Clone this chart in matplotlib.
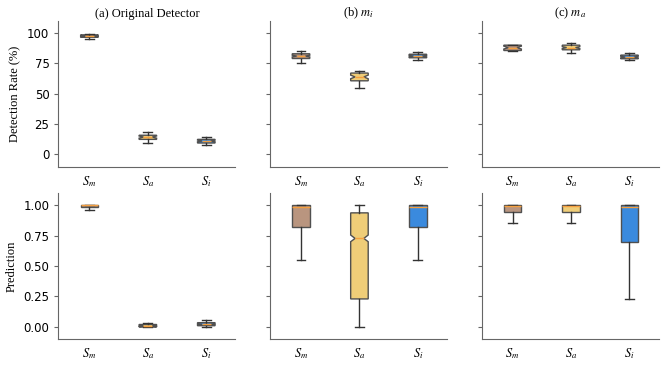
import matplotlib
matplotlib.use("Agg")
import matplotlib.pyplot as plt

groups = ["$S_m$", "$S_a$", "$S_i$"]
titles = ["(a) Original Detector", "(b) $m_i$", "(c) $m_a$"]
colors = ["#b9957f", "#efcd78", "#3a8ade"]

# top row: detection rate (%), one list per panel, one value per group
rate_whislo = [[95.0, 9.5, 8.0], [75.2, 54.5, 77.7], [85.5, 83.5, 77.7]]
rate_q1 = [[96.5, 12.3, 9.3], [79.0, 60.6, 79.6], [85.6, 86.2, 78.8]]
rate_med = [[97.5, 14.2, 11.0], [81.0, 63.8, 81.0], [88.0, 88.0, 80.2]]
rate_q3 = [[98.5, 15.7, 12.3], [82.9, 67.0, 82.5], [90.0, 90.0, 81.8]]
rate_whishi = [[99.5, 18.2, 14.0], [84.8, 69.0, 84.0], [90.5, 91.7, 83.5]]
rate_cilo = [[97.0, 13.3, 10.3], [80.3, 62.3, 80.4], [86.8, 87.2, 79.5]]
rate_cihi = [[98.0, 15.1, 11.7], [81.7, 65.3, 81.6], [89.2, 88.8, 80.9]]

# bottom row: prediction
pred_whislo = [[0.96, 0.0, 0.0], [0.547, 0.0, 0.547], [0.852, 0.852, 0.232]]
pred_q1 = [[0.985, 0.0, 0.01], [0.817, 0.23, 0.817], [0.94, 0.94, 0.694]]
pred_med = [[1.0, 0.005, 0.02], [0.985, 0.727, 0.985], [0.99, 0.99, 0.985]]
pred_q3 = [[1.0, 0.02, 0.035], [1.0, 0.937, 1.0], [1.0, 1.0, 1.0]]
pred_whishi = [[1.0, 0.03, 0.06], [1.0, 1.0, 1.0], [1.0, 1.0, 1.0]]
pred_cilo = [[1.0, 0.002, 0.015], [0.985, 0.70, 0.985], [0.99, 0.99, 0.985]]
pred_cihi = [[1.0, 0.01, 0.025], [1.0, 0.755, 1.0], [1.0, 1.0, 1.0]]

plt.rcParams['mathtext.fontset'] = 'stix'
serif = "Liberation Serif"


def draw_box(ax, p, lo, q1, med, q3, hi, cilo, cihi):
    for g in range(len(groups)):
        st = {
            "whislo": lo[p][g], "q1": q1[p][g], "med": med[p][g],
            "q3": q3[p][g], "whishi": hi[p][g],
            "cilo": cilo[p][g], "cihi": cihi[p][g],
            "fliers": [], "label": groups[g],
        }
        # notch only when the interval sits inside the box
        notch = st["cilo"] > st["q1"] and st["cihi"] < st["q3"]
        bp = ax.bxp([st], positions=[g + 1], widths=0.3, shownotches=notch,
                    patch_artist=True, showfliers=False,
                    boxprops=dict(edgecolor="#505050", linewidth=1.0),
                    whiskerprops=dict(color="#333333", linewidth=1.0),
                    capprops=dict(color="#333333", linewidth=1.0),
                    medianprops=dict(color="#f5a040", linewidth=1.0))
        bp["boxes"][0].set_facecolor(colors[g])
    ax.set_xticks([1, 2, 3])
    ax.set_xticklabels(groups, fontsize=9)
    ax.set_xlim(0.47, 3.5)
    ax.spines["top"].set_visible(False)
    ax.spines["right"].set_visible(False)
    ax.spines["left"].set_color("#666666")
    ax.spines["bottom"].set_color("#666666")
    ax.tick_params(axis="y", labelsize=8.5, length=3, color="#666666")
    ax.tick_params(axis="x", length=0, pad=5)


fig, axes = plt.subplots(2, 3, figsize=(6.64, 3.67), dpi=100, sharey="row")
fig.subplots_adjust(left=0.088, right=0.992, top=0.943, bottom=0.076,
                    wspace=0.195, hspace=0.178)

for p in range(3):
    ax = axes[0, p]
    draw_box(ax, p, rate_whislo, rate_q1, rate_med, rate_q3,
             rate_whishi, rate_cilo, rate_cihi)
    ax.set_ylim(-10.5, 110)
    ax.set_yticks([0, 25, 50, 75, 100])
    ax.set_title(titles[p], fontsize=9, family=serif, pad=3)

    ax = axes[1, p]
    draw_box(ax, p, pred_whislo, pred_q1, pred_med, pred_q3,
             pred_whishi, pred_cilo, pred_cihi)
    ax.set_ylim(-0.1, 1.1)
    ax.set_yticks([0.0, 0.25, 0.5, 0.75, 1.0])

axes[0, 0].set_ylabel("Detection Rate (%)", fontsize=9, family=serif)
axes[1, 0].set_ylabel("Prediction", fontsize=9, family=serif)

plt.savefig("out.png", dpi=100)
